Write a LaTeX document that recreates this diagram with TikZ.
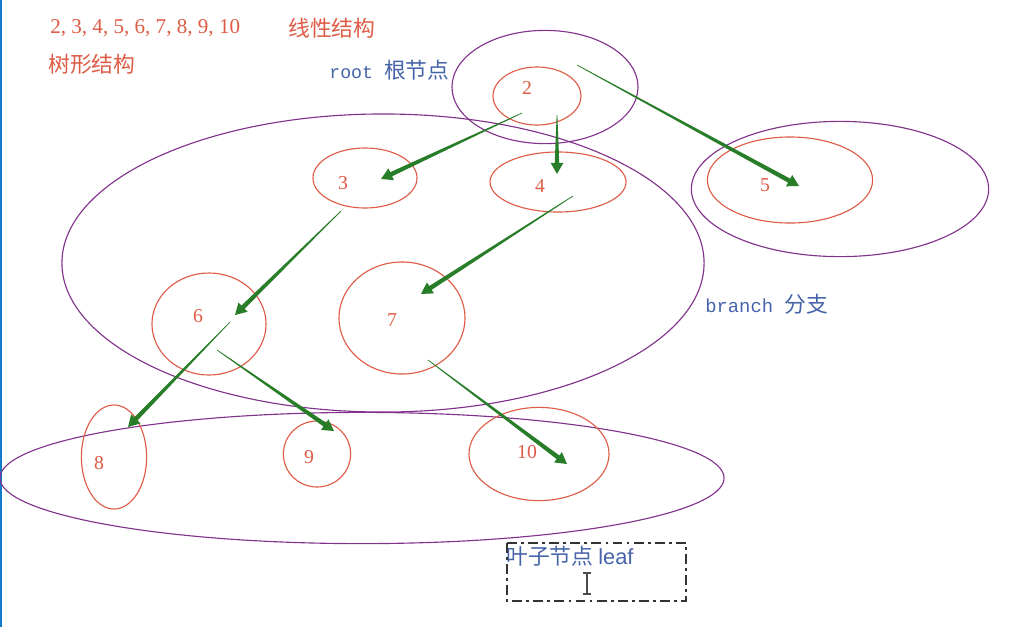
\documentclass[tikz,border=0pt]{standalone}
\usepackage{fontspec}
\setmainfont{Liberation Serif}
\setmonofont{Liberation Mono}
\setsansfont{Liberation Sans}
\newfontfamily\cjk{Noto Sans CJK SC}
\usetikzlibrary{arrows.meta,shapes.geometric,calc}
\definecolor{treered}{RGB}{222,92,70}
\definecolor{grpurple}{RGB}{130,50,140}
\definecolor{arrgreen}{RGB}{40,125,40}
\definecolor{notblue}{RGB}{70,100,170}
% tapered arrow from #1 to #2
\newcommand{\taperarrow}[2]{%
  \fill[arrgreen] ($(#1)!0.25pt!90:(#2)$) -- ($($(#2)!8pt!(#1)$)!1.6pt!-90:(#1)$)
    -- ($($(#2)!8pt!(#1)$)!4.6pt!-90:(#1)$) -- (#2)
    -- ($($(#2)!8pt!(#1)$)!4.6pt!90:(#1)$) -- ($($(#2)!8pt!(#1)$)!1.6pt!90:(#1)$)
    -- ($(#1)!0.25pt!-90:(#2)$) -- cycle;}

\begin{document}
\begin{tikzpicture}[
      x=0.025cm, y=-0.025cm,
      kid/.style={ellipse, draw=treered, line width=0.8pt, inner sep=0pt},
      grp/.style={ellipse, draw=grpurple, line width=0.8pt, inner sep=0pt},
      num/.style={text=treered, font=\fontsize{14}{16}\selectfont},
      note/.style={anchor=west, inner sep=0pt, text=notblue},
      head/.style={anchor=west, inner sep=0pt, text=treered},
    ]
    \useasboundingbox (0,0) rectangle (1019,627);
    \fill[white] (0,0) rectangle (1019,627);
    \draw[cyan!60!blue, line width=1.2pt] (1,0) -- (1,627);

    % Headings
    \node[head, font=\fontsize{15}{17}\selectfont] (seq) at (50,28) {2, 3, 4, 5, 6, 7, 8, 9, 10};
    \node[head, font=\cjk\fontsize{15.5}{18}\selectfont] (linear) at (288,28) {线性结构};
    \node[head, font=\cjk\fontsize{15.5}{18}\selectfont] (treehead) at (48,64) {树形结构};

    % Groups
    \node[grp, minimum width=4.65cm, minimum height=2.83cm]  (grproot)   at (545,87)  {};
    \node[grp, minimum width=16.05cm, minimum height=7.45cm] (grpbranch) at (383,263) {};
    \node[grp, minimum width=7.43cm, minimum height=3.38cm]  (grpfive)   at (840,189) {};
    \node[grp, minimum width=18.1cm, minimum height=3.28cm]  (grpleaf)   at (362,478) {};

    % Tree nodes
    \node[kid, minimum width=2.2cm, minimum height=1.45cm]  (e2)  at (537,96)  {};
    \node[kid, minimum width=2.6cm, minimum height=1.5cm]   (e3)  at (365,178) {};
    \node[kid, minimum width=3.4cm, minimum height=1.5cm]   (e4)  at (558,182) {};
    \node[kid, minimum width=4.13cm, minimum height=2.15cm] (e5)  at (790,180) {};
    \node[kid, minimum width=2.85cm, minimum height=2.55cm] (e6)  at (209,324) {};
    \node[kid, minimum width=3.15cm, minimum height=2.8cm]  (e7)  at (402,318) {};
    \node[kid, minimum width=1.63cm, minimum height=2.6cm]  (e8)  at (114,457) {};
    \node[kid, minimum width=1.68cm, minimum height=1.65cm] (e9)  at (317,454) {};
    \node[kid, minimum width=3.5cm, minimum height=2.33cm]  (e10) at (539,454) {};

    % Numbers
    \node[num] (n2)  at (527,88)  {2};
    \node[num] (n3)  at (343,183) {3};
    \node[num] (n4)  at (540,186) {4};
    \node[num] (n5)  at (765,185) {5};
    \node[num] (n6)  at (198,316) {6};
    \node[num] (n7)  at (392,320) {7};
    \node[num] (n8)  at (99,463)  {8};
    \node[num] (n9)  at (309,457) {9};
    \node[num] (n10) at (527,452) {10};

    % Notes
    \node[note] (rootnote) at (329,70)
      {\fontsize{13}{16}\selectfont\ttfamily root \cjk\fontsize{15.5}{18}\selectfont 根节点};
    \node[note] (branchnote) at (705,304)
      {\fontsize{13.4}{16}\selectfont\ttfamily branch \cjk\fontsize{15.5}{18}\selectfont 分支};
    \node[note] (leafnote) at (506,556)
      {\cjk\fontsize{15.5}{18}\selectfont 叶子节点 \sffamily\fontsize{15.5}{18}\selectfont leaf};
    \draw[black!80, line width=0.9pt, dash pattern=on 7pt off 3pt on 2pt off 3pt]
      (507,543) rectangle (686,601);
    \draw[black!70, line width=0.8pt] (587,573) -- (587,594)
      (583,573) -- (591,573) (583,594) -- (591,594);

    % Arrow ends
    \coordinate (s25) at (577,65);   \coordinate (t25) at (799,186);
    \coordinate (s23) at (522,113);  \coordinate (t23) at (381,179);
    \coordinate (s24) at (557,115);  \coordinate (t24) at (557,174);
    \coordinate (s36) at (341,211);  \coordinate (t36) at (235,315);
    \coordinate (s47) at (573,196);  \coordinate (t47) at (421,294);
    \coordinate (s68) at (230,322);  \coordinate (t68) at (128,427);
    \coordinate (s69) at (217,350);  \coordinate (t69) at (334,431);
    \coordinate (s710) at (428,360); \coordinate (t710) at (567,464);

    % Arrows
    \taperarrow{s25}{t25}
    \taperarrow{s23}{t23}
    \taperarrow{s24}{t24}
    \taperarrow{s36}{t36}
    \taperarrow{s47}{t47}
    \taperarrow{s68}{t68}
    \taperarrow{s69}{t69}
    \taperarrow{s710}{t710}
  \end{tikzpicture}
\end{document}
